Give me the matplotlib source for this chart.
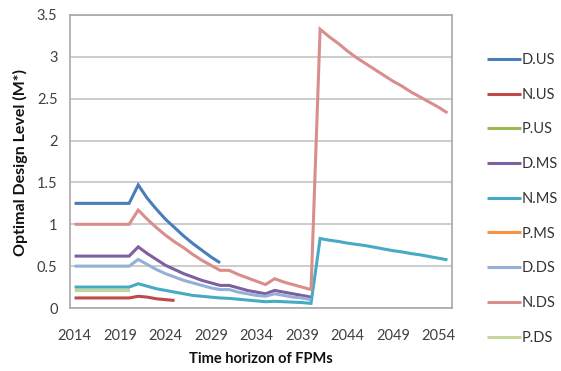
import matplotlib
matplotlib.use("Agg")
import numpy as np
from matplotlib import pyplot as plt

# Optimal design level per year over the FPM time horizon
years = list(range(2014, 2056))
tick_years = [2014, 2019, 2024, 2029, 2034, 2039, 2044, 2049, 2054]

d_us = [1.25, 1.25, 1.25, 1.25, 1.25, 1.25, 1.25, 1.47, 1.31, 1.18, 1.06, 0.96,
        0.86, 0.77, 0.69, 0.61, 0.54]
n_us = [0.12, 0.12, 0.12, 0.12, 0.12, 0.12, 0.12, 0.14, 0.13, 0.11, 0.10, 0.09]
p_us = [0.22, 0.22, 0.22, 0.22, 0.22, 0.22, 0.22]
d_ms = [0.62, 0.62, 0.62, 0.62, 0.62, 0.62, 0.62, 0.73, 0.65, 0.58, 0.51, 0.46,
        0.41, 0.37, 0.33, 0.30, 0.27, 0.27, 0.24, 0.21, 0.19, 0.17, 0.21, 0.19,
        0.17, 0.15, 0.13]
n_ms = [0.25, 0.25, 0.25, 0.25, 0.25, 0.25, 0.25, 0.29, 0.26, 0.23, 0.21, 0.19,
        0.17, 0.15, 0.14, 0.13, 0.12, 0.115, 0.105, 0.095, 0.085, 0.075, 0.08,
        0.075, 0.07, 0.065, 0.055, 0.83, 0.81, 0.795, 0.775, 0.76, 0.745, 0.725,
        0.705, 0.685, 0.67, 0.65, 0.635, 0.615, 0.595, 0.575]
p_ms = [0.22, 0.22, 0.22, 0.22, 0.22, 0.22, 0.22]
d_ds = [0.50, 0.50, 0.50, 0.50, 0.50, 0.50, 0.50, 0.58, 0.52, 0.46, 0.41, 0.37,
        0.33, 0.30, 0.27, 0.24, 0.22, 0.22, 0.19, 0.17, 0.15, 0.14, 0.17, 0.15,
        0.13, 0.12, 0.10]
n_ds = [1.0, 1.0, 1.0, 1.0, 1.0, 1.0, 1.0, 1.17, 1.06, 0.96, 0.87, 0.79, 0.72,
        0.64, 0.57, 0.51, 0.45, 0.45, 0.40, 0.36, 0.32, 0.28, 0.35, 0.31, 0.28,
        0.25, 0.22, 3.33, 3.24, 3.16, 3.07, 2.99, 2.92, 2.85, 2.78, 2.71, 2.65,
        2.58, 2.52, 2.46, 2.40, 2.33]
p_ds = [0.22, 0.22, 0.22, 0.22, 0.22, 0.22, 0.22]

series = [
    ("D.US", d_us, "#4A7EBB"),
    ("N.US", n_us, "#BE4B48"),
    ("P.US", p_us, "#98B954"),
    ("D.MS", d_ms, "#7D60A0"),
    ("N.MS", n_ms, "#46AAC5"),
    ("P.MS", p_ms, "#F69240"),
    ("D.DS", d_ds, "#94B0D8"),
    ("N.DS", n_ds, "#DA8E8B"),
    ("P.DS", p_ds, "#C3D69B"),
]

plt.rcParams["font.family"] = ["Lato", "DejaVu Sans"]

fig = plt.figure(figsize=(5.61, 3.71), dpi=100)
ax = fig.add_axes([70 / 561, 1 - 308 / 371, 382 / 561, 293 / 371])

for label, values, color in series:
    ax.plot(years[:len(values)], values, color=color, lw=2.2, label=label,
            solid_joinstyle="miter", solid_capstyle="butt")

ax.set_xlim(2013.5, 2055.5)
ax.set_ylim(0, 3.5)
ax.set_yticks(np.arange(0, 3.51, 0.5))
ax.set_yticklabels(["0", "0.5", "1", "1.5", "2", "2.5", "3", "3.5"])
ax.set_xticks(tick_years)
ax.tick_params(axis="y", length=0, pad=9, labelsize=10.5, labelcolor="#404040")
ax.tick_params(axis="x", length=0, pad=15, labelsize=10.5, labelcolor="#404040")
ax.grid(axis="y", color="#c4c4c4", lw=1.2)
ax.set_axisbelow(True)
for side in ["left", "right", "bottom", "top"]:
    ax.spines[side].set_color("#a8a8a8")
    ax.spines[side].set_linewidth(1.2)

fig.text(20 / 561, 1 - 162 / 371, "Optimal Design Level (M*)", rotation=90,
         ha="center", va="center", fontsize=11.5, fontweight="bold", color="#111111")
fig.text(261 / 561, 1 - 359 / 371, "Time horizon of FPMs", ha="center",
         va="center", fontsize=10.5, fontweight="bold", color="#111111")

fig.legend(loc="upper left", bbox_to_anchor=(487 / 561, 1 - 53 / 371),
           frameon=False, fontsize=10.5, handlelength=2.3, handletextpad=0.1,
           labelspacing=1.42, borderpad=0, borderaxespad=0, labelcolor="#333333")

fig.savefig("out.png", dpi=100)
